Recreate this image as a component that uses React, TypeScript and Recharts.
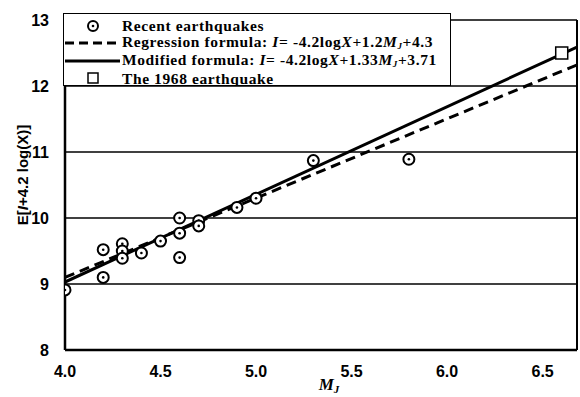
import { ScatterChart, Scatter, XAxis, YAxis, CartesianGrid, ReferenceLine } from 'recharts';

// recent earthquakes: magnitude MJ vs E[I + 4.2 log(X)]
const recentM = [4.0, 4.2, 4.2, 4.3, 4.3, 4.3, 4.4, 4.5, 4.6, 4.6, 4.6, 4.7, 4.7, 4.9, 5.0, 5.3, 5.8];
const recentI = [8.91, 9.1, 9.52, 9.61, 9.5, 9.39, 9.47, 9.65, 10.0, 9.77, 9.4, 9.96, 9.88, 10.16, 10.3, 10.87, 10.89];

// the 1968 earthquake
const bigM = [6.6];
const bigI = [12.5];

// line endpoints
const regressionM = [4.0, 6.68];
const regressionI = [9.1, 12.32];
const modifiedM = [4.0, 6.68];
const modifiedI = [9.03, 12.59];

const xTicks = [4.0, 4.5, 5.0, 5.5, 6.0, 6.5];
const yTicks = [8, 9, 10, 11, 12, 13];

const zip = (xs: number[], ys: number[]) => xs.map((x, i) => ({ x, y: ys[i] }));

const recent = zip(recentM, recentI);
const big = zip(bigM, bigI);
const regression = zip(regressionM, regressionI);
const modified = zip(modifiedM, modifiedI);

const serif = '"Liberation Serif", "DejaVu Serif", serif';
const sans = '"Liberation Sans", Arial, sans-serif';

const DotCircle = (p: any) => (
    <g>
        <circle cx={p.cx} cy={p.cy} r={5.5} fill="#fff" stroke="#000" strokeWidth={2} />
        <circle cx={p.cx} cy={p.cy} r={1.3} fill="#000" />
    </g>
);

const Square = (p: any) => (
    <rect x={p.cx - 6} y={p.cy - 6} width={12} height={12} fill="#fff" stroke="#000" strokeWidth={1.5} />
);

const NoShape = () => <g />;

const XLabel = (p: any) => {
    const vb = p.viewBox;
    const cx = vb.x + vb.width / 2 + 8;
    return (
        <text x={cx} y={vb.y + 40} textAnchor="middle" fill="#000" fontFamily={serif} fontWeight="bold" fontStyle="italic" fontSize={17}>
            M<tspan fontSize={11} dy={3}>J</tspan>
        </text>
    );
};

const YLabel = (p: any) => {
    const vb = p.viewBox;
    const cy = vb.y + vb.height / 2 - 10;
    const cx = 22;
    return (
        <text x={cx} y={cy} transform={`rotate(-90 ${cx} ${cy})`} textAnchor="middle" dominantBaseline="central" fill="#000" fontFamily={sans} fontWeight="bold" fontSize={15}>
            E[<tspan fontStyle="italic">I</tspan>+4.2 log(X)]
        </text>
    );
};

const LegendBox = () => {
    const rowStyle: React.CSSProperties = { display: 'flex', alignItems: 'center', height: 17.5, whiteSpace: 'nowrap', overflow: 'hidden' };
    const icon = (el: React.ReactNode) => <svg width={58} height={16} style={{ flex: 'none' }}>{el}</svg>;
    const sub = { fontSize: 9, position: 'relative', top: 2 } as React.CSSProperties;
    return (
        <div
            style={{
                position: 'absolute',
                left: 63,
                top: 13,
                width: 388,
                height: 73,
                boxSizing: 'border-box',
                border: '1.5px solid #000',
                background: '#fff',
                fontFamily: serif,
                fontWeight: 'bold',
                fontSize: 15.5,
                letterSpacing: 0.6,
                color: '#000',
                padding: '3px 0 0 0',
                lineHeight: '15px',
                overflow: 'hidden',
            }}
        >
            <div style={rowStyle}>
                {icon(<g><circle cx={29} cy={8} r={5} fill="#fff" stroke="#000" strokeWidth={2} /><circle cx={29} cy={8} r={1.3} fill="#000" /></g>)}
                <span>Recent earthquakes</span>
            </div>
            <div style={rowStyle}>
                {icon(<line x1={1} y1={8} x2={56} y2={8} stroke="#000" strokeWidth={3} strokeDasharray="9 5" />)}
                <span>Regression formula: <i>I</i>= -4.2log<i>X</i>+1.2<i>M<span style={sub}>J</span></i>+4.3</span>
            </div>
            <div style={rowStyle}>
                {icon(<line x1={1} y1={8} x2={56} y2={8} stroke="#000" strokeWidth={3} />)}
                <span>Modified formula: <i>I</i>= -4.2log<i>X</i>+1.33<i>M<span style={sub}>J</span></i>+3.71</span>
            </div>
            <div style={rowStyle}>
                {icon(<rect x={24} y={3} width={10} height={10} fill="#fff" stroke="#000" strokeWidth={1.5} />)}
                <span>The 1968 earthquake</span>
            </div>
        </div>
    );
};

export default function App() {
    return (
        <div style={{ position: 'absolute', left: 0, top: 0, width: 580, height: 397, background: '#fff' }}>
            <ScatterChart width={580} height={397} margin={{ top: 20, right: 3, left: 0, bottom: 0 }}>
                <CartesianGrid horizontal vertical={false} stroke="#000" strokeWidth={1.5} />
                <XAxis
                    type="number"
                    dataKey="x"
                    domain={[4, 6.68]}
                    ticks={xTicks}
                    tickFormatter={(v: number) => v.toFixed(1)}
                    height={47}
                    allowDataOverflow
                    axisLine={{ stroke: '#000', strokeWidth: 2.5 }}
                    tickLine={false}
                    tickMargin={10}
                    tick={{ fill: '#000', fontSize: 16, fontWeight: 'bold', fontFamily: sans }}
                    label={<XLabel />}
                />
                <YAxis
                    type="number"
                    dataKey="y"
                    domain={[8, 13]}
                    ticks={yTicks}
                    width={65}
                    allowDataOverflow
                    axisLine={{ stroke: '#000', strokeWidth: 2.5 }}
                    tickLine={false}
                    tickMargin={10}
                    tick={{ fill: '#000', fontSize: 16, fontWeight: 'bold', fontFamily: sans }}
                    label={<YLabel />}
                />
                <ReferenceLine x={6.68} stroke="#000" strokeWidth={2} />
                <Scatter data={regression} line={{ stroke: '#000', strokeWidth: 3, strokeDasharray: '10 6' }} shape={NoShape} legendType="none" isAnimationActive={false} />
                <Scatter data={modified} line={{ stroke: '#000', strokeWidth: 3 }} shape={NoShape} legendType="none" isAnimationActive={false} />
                <Scatter data={recent} shape={DotCircle} legendType="none" isAnimationActive={false} />
                <Scatter data={big} shape={Square} legendType="none" isAnimationActive={false} />
            </ScatterChart>
            <LegendBox />
        </div>
    );
}
